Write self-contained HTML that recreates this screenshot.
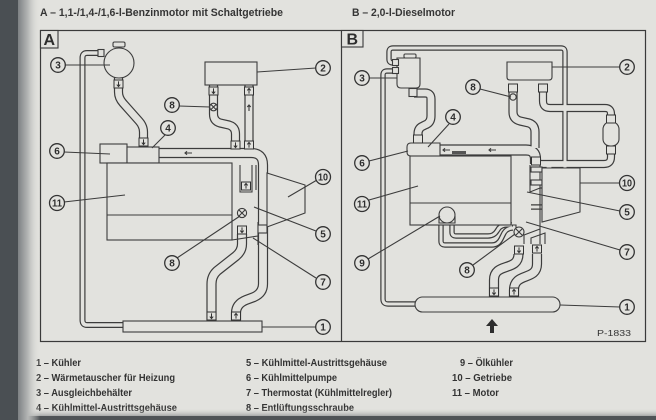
<!DOCTYPE html>
<html><head><meta charset="utf-8"><style>
html,body{margin:0;padding:0;background:#e2e2de;}
body{width:656px;height:420px;overflow:hidden;}
svg{display:block;font-family:"Liberation Sans",Arial,sans-serif;}
.ln{stroke:#3c3c3c;stroke-width:1.1;fill:none;}
.bx{stroke:#3c3c3c;stroke-width:1.1;fill:#e2e2de;}
.hd{stroke:#3c3c3c;fill:none;}
.hl{stroke:#e2e2de;fill:none;}
.lc{fill:#e2e2de;stroke:#333;stroke-width:1.3;}
.lt{font-size:10px;font-weight:bold;fill:#2e2e2e;text-anchor:middle;}
.lg{font-size:10px;font-weight:bold;fill:#333;}
</style></head><body>
<svg width="656" height="420" viewBox="0 0 656 420" xmlns="http://www.w3.org/2000/svg">
<defs>
<linearGradient id="mg" x1="0" x2="1" y1="0" y2="0"><stop offset="0" stop-color="#7d8184"/><stop offset="0.45" stop-color="#b4b6b5"/><stop offset="1" stop-color="#e2e2de" stop-opacity="0"/></linearGradient>
<linearGradient id="bgr" x1="0" x2="0" y1="0" y2="1"><stop offset="0" stop-color="#e2e2de" stop-opacity="0"/><stop offset="1" stop-color="#5a5e61"/></linearGradient>
<g id="s"><rect x="-4.5" y="-4" width="9" height="8" fill="#e2e2de" stroke="#333" stroke-width="1"/></g>
<g id="sd"><use href="#s"/><path d="M0 -2.6V2.4M-1.7 0.6L0 2.6L1.7 0.6" fill="none" stroke="#333" stroke-width="1"/></g>
<g id="su"><use href="#s"/><path d="M0 2.6V-2.4M-1.7 -0.6L0 -2.6L1.7 -0.6" fill="none" stroke="#333" stroke-width="1"/></g>
</defs>
<rect x="0" y="0" width="656" height="420" fill="#e2e2de"/>

<!-- headers -->
<text x="40" y="16" font-size="11" font-weight="bold" fill="#353535" textLength="243" lengthAdjust="spacingAndGlyphs">A – 1,1-/1,4-/1,6-l-Benzinmotor mit Schaltgetriebe</text>
<text x="352" y="16" font-size="11" font-weight="bold" fill="#353535" textLength="103" lengthAdjust="spacingAndGlyphs">B – 2,0-l-Dieselmotor</text>

<!-- frames -->
<rect x="40.5" y="30.5" width="605" height="311" fill="none" stroke="#3a3a3a" stroke-width="1.2"/>
<line x1="341.5" y1="30" x2="341.5" y2="342" stroke="#3a3a3a" stroke-width="1.2"/>
<rect x="40.5" y="30.5" width="17.5" height="17.5" fill="#e2e2de" stroke="#3a3a3a" stroke-width="1.1"/>
<text x="49.3" y="45" font-size="16" font-weight="bold" fill="#2e2e2e" text-anchor="middle">A</text>
<rect x="341.5" y="30.5" width="21.5" height="16.5" fill="#e2e2de" stroke="#3a3a3a" stroke-width="1.1"/>
<text x="352.3" y="44.5" font-size="16" font-weight="bold" fill="#2e2e2e" text-anchor="middle">B</text>

<!-- ================= PANEL A ================= -->
<g class="hd">
<path stroke-width="6" d="M100 53 L87 53 Q82.5 53 82.5 58 L82.5 320 Q82.5 325 87 325 L124 325"/>
<path stroke-width="9.2" d="M118.5 77 L118.5 92 Q118.5 98 123 103 L139 121 Q143.5 126 143.5 132 L143.5 147"/>
<path stroke-width="9.2" d="M213.5 84 L213.5 114 Q213.5 121 220 123 L229 125 Q235.5 127 235.5 134 L235.5 150"/>
<path stroke-width="9.2" d="M249 84 L249 150"/>
<path stroke-width="10.2" d="M158 153 L251 153 Q263 153 263 165 L263 284 Q263 293 254 297 L246 300 Q236 304 236 313 L236 322"/>
<path stroke-width="10.2" d="M242 234 L242 244 Q242 251 236 256 L217 271 Q211.5 276 211.5 284 L211.5 322"/>
</g>
<g class="hl">
<path stroke-width="3.6" d="M100 53 L87 53 Q82.5 53 82.5 58 L82.5 320 Q82.5 325 87 325 L124 325"/>
<path stroke-width="6.8" d="M118.5 77 L118.5 92 Q118.5 98 123 103 L139 121 Q143.5 126 143.5 132 L143.5 147"/>
<path stroke-width="6.8" d="M213.5 84 L213.5 114 Q213.5 121 220 123 L229 125 Q235.5 127 235.5 134 L235.5 150"/>
<path stroke-width="6.8" d="M249 84 L249 150"/>
<path stroke-width="7.8" d="M158 153 L251 153 Q263 153 263 165 L263 284 Q263 293 254 297 L246 300 Q236 304 236 313 L236 322"/>
<path stroke-width="7.8" d="M242 234 L242 244 Q242 251 236 256 L217 271 Q211.5 276 211.5 284 L211.5 322"/>
</g>
<path class="ln" d="M192 153 H185 M187 151.3 L185 153 L187 154.7" stroke-width="1"/>
<path class="ln" d="M249 111 V105 M247.3 107 L249 105 L250.7 107" stroke-width="1"/>

<circle cx="119" cy="63" r="15" class="bx"/>
<rect x="113" y="42" width="12" height="5" rx="1.5" class="bx"/>
<rect x="98" y="49.5" width="6" height="7" class="bx"/>
<rect x="205" y="62" width="52" height="23" class="bx"/>
<rect x="100" y="144" width="27" height="19" class="bx"/>
<rect x="127" y="147" width="32" height="16" class="bx"/>
<rect x="107" y="163" width="125" height="77" class="bx"/>
<line x1="107" y1="215" x2="232" y2="215" class="ln"/>
<path class="ln" d="M240 165 V192 H252 V165 M256 165 V190 M232 240 L258 236 M258 222 V245"/>
<rect x="258" y="225" width="9" height="8" class="bx"/>
<path class="bx" d="M267 173 L305 185 L305 213 L267 227 Z"/>
<rect x="123" y="321" width="139" height="11" class="bx"/>
<circle cx="213.5" cy="107" r="3.8" class="bx"/>
<path class="ln" d="M211 104.5 L216 109.5 M216 104.5 L211 109.5" stroke-width="0.9"/>
<circle cx="242" cy="213" r="4.6" class="bx"/>
<path class="ln" d="M239 210 L245 216 M245 210 L239 216" stroke-width="0.9"/>
<use href="#sd" x="118.5" y="84"/>
<use href="#sd" x="143.5" y="142"/>
<use href="#sd" x="213.5" y="91"/>
<use href="#sd" x="235.5" y="145"/>
<use href="#su" x="249" y="91"/>
<use href="#su" x="249" y="145"/>
<use href="#su" x="246" y="186"/>
<use href="#sd" x="242" y="230"/>
<use href="#sd" x="211.5" y="316"/>
<use href="#su" x="236" y="316"/>

<g class="ln">
<path d="M65 65 L110 65"/>
<path d="M316 68 L257 72"/>
<path d="M179 106 L210 107"/>
<path d="M165 135 L152 148"/>
<path d="M64 152 L110 154"/>
<path d="M317 180 L288 197"/>
<path d="M64 202 L125 195"/>
<path d="M316 231 L254 207"/>
<path d="M177 258 L240 216"/>
<path d="M316 278 L253 238"/>
<path d="M316 327 L262 327"/>
</g>
<g>
<circle cx="58" cy="65" r="7.3" class="lc"/><text x="58" y="68.6" class="lt">3</text>
<circle cx="323" cy="68" r="7.3" class="lc"/><text x="323" y="71.6" class="lt">2</text>
<circle cx="172" cy="105" r="7.3" class="lc"/><text x="172" y="108.6" class="lt">8</text>
<circle cx="168" cy="128" r="7.3" class="lc"/><text x="168" y="131.6" class="lt">4</text>
<circle cx="57" cy="151" r="7.3" class="lc"/><text x="57" y="154.6" class="lt">6</text>
<circle cx="323" cy="177" r="7.5" class="lc"/><text x="323" y="180.4" class="lt" font-size="9" textLength="10" lengthAdjust="spacingAndGlyphs">10</text>
<circle cx="57" cy="203" r="7.5" class="lc"/><text x="57" y="206.4" class="lt" font-size="9" textLength="10" lengthAdjust="spacingAndGlyphs">11</text>
<circle cx="323" cy="234" r="7.3" class="lc"/><text x="323" y="237.6" class="lt">5</text>
<circle cx="172" cy="263" r="7.3" class="lc"/><text x="172" y="266.6" class="lt">8</text>
<circle cx="323" cy="282" r="7.3" class="lc"/><text x="323" y="285.6" class="lt">7</text>
<circle cx="323" cy="327" r="7.3" class="lc"/><text x="323" y="330.6" class="lt">1</text>
</g>

<!-- ================= PANEL B ================= -->
<g class="hd">
<path stroke-width="5.4" d="M397 63 L393 63 Q389 63 389 59 L389 52 Q389 48 393 48 L561 48 Q565 48 565 52 L565 201 Q565 207 559 207 L531 207"/>
<path stroke-width="5.4" d="M397 71 L387 71 Q383 71 383 75 L383 299 Q383 304 388 304 L416 304"/>
<path stroke-width="9.2" d="M414 93 L425 93 Q431 93 431 99 L431 116 Q431 123 425 125 L423 126 Q418 128 418 134 L418 144"/>
<path stroke-width="11.2" d="M439 150 L526 150 Q535.5 150 535.5 159 L535.5 164"/>
<path stroke-width="9.2" d="M513 88 L513 112 Q513 119 520 121 L529 123 Q535 125 535 132 L535 148"/>
<path stroke-width="8.2" d="M543 88 L543 101 Q543 108 550 108 L605 108 Q611 108 611 114 L611 123"/>
<path stroke-width="8.2" d="M611 145 L611 157 Q611 164 604 164 L540 164"/>
<path stroke-width="5.4" d="M441 221 L441 241 Q441 245 445 245 L492 245 Q498 245 501 239 L504 233 Q507 228 513 228"/>
<path stroke-width="5.4" d="M452 221 L452 232 Q452 236 456 236 L488 236 Q494 236 497 231 L499 228 Q502 225 507 225 L512 225"/>
<path stroke-width="10.2" d="M518.5 254 C518.5 272 494 262 494 280 L494 298"/>
<path stroke-width="10.2" d="M537 254 L537 264 C537 281 514 272 514 290 L514 298"/>
<path stroke-width="7.2" d="M549 166 L549 180 Q549 185 544 185 L540 185"/>
</g>
<g class="hl">
<path stroke-width="3" d="M397 63 L393 63 Q389 63 389 59 L389 52 Q389 48 393 48 L561 48 Q565 48 565 52 L565 201 Q565 207 559 207 L531 207"/>
<path stroke-width="3" d="M397 71 L387 71 Q383 71 383 75 L383 299 Q383 304 388 304 L416 304"/>
<path stroke-width="6.8" d="M414 93 L425 93 Q431 93 431 99 L431 116 Q431 123 425 125 L423 126 Q418 128 418 134 L418 144"/>
<path stroke-width="8.8" d="M439 150 L526 150 Q535.5 150 535.5 159 L535.5 164"/>
<path stroke-width="6.8" d="M513 88 L513 112 Q513 119 520 121 L529 123 Q535 125 535 132 L535 148"/>
<path stroke-width="5.8" d="M543 88 L543 101 Q543 108 550 108 L605 108 Q611 108 611 114 L611 123"/>
<path stroke-width="5.8" d="M611 145 L611 157 Q611 164 604 164 L540 164"/>
<path stroke-width="3" d="M441 221 L441 241 Q441 245 445 245 L492 245 Q498 245 501 239 L504 233 Q507 228 513 228"/>
<path stroke-width="3" d="M452 221 L452 232 Q452 236 456 236 L488 236 Q494 236 497 231 L499 228 Q502 225 507 225 L512 225"/>
<path stroke-width="7.8" d="M518.5 254 C518.5 272 494 262 494 280 L494 298"/>
<path stroke-width="7.8" d="M537 254 L537 264 C537 281 514 272 514 290 L514 298"/>
<path stroke-width="4.8" d="M549 166 L549 180 Q549 185 544 185 L540 185"/>
</g>
<path class="ln" d="M450 150 H443 M445 148.3 L443 150 L445 151.7" stroke-width="1"/>
<path class="ln" d="M496 150 H489 M491 148.3 L489 150 L491 151.7" stroke-width="1"/>
<rect x="452" y="151" width="14" height="3" fill="#555"/>

<path class="bx" d="M397 58 H420 V84 Q420 88 416 88 H401 Q397 88 397 84 Z"/>
<rect x="404" y="54" width="12" height="4" rx="1.2" class="bx"/>
<rect x="392.5" y="59.5" width="6" height="6" class="bx"/>
<rect x="392.5" y="67.5" width="6" height="6" class="bx"/>
<rect x="409" y="88.5" width="8" height="8" class="bx"/>
<path class="bx" d="M507 62 H552 V77 Q552 80 549 80 H510 Q507 80 507 77 Z"/>
<rect x="603" y="122" width="16" height="24" rx="7" class="bx"/>
<path class="bx" d="M411 143 H440 V156 H411 Q407 156 407 152 V147 Q407 143 411 143 Z"/>
<rect x="410" y="156" width="101" height="69" class="bx"/>
<line x1="410" y1="203" x2="511" y2="203" class="ln"/>
<circle cx="447" cy="215" r="8" class="bx"/>
<path class="ln" d="M439 216 V223 H455 V216"/>
<path class="ln" d="M540 160 V244 M530 165 V192 L540 188 M511 225 L516 225 L516 229 L521 229 M524 244 V235 L540 229 M531 244 V238 L545 233 V244"/>
<rect x="531" y="167" width="11" height="5" class="bx"/>
<rect x="531" y="180" width="11" height="5" class="bx"/>
<path class="bx" d="M542 168 L580 168 L580 212 L542 222 Z"/>
<rect x="415" y="297" width="145" height="15" rx="7.5" class="bx"/>
<circle cx="513" cy="97" r="3.2" class="bx"/>
<circle cx="519" cy="232" r="5" class="bx"/>
<path class="ln" d="M516 229 L522 235 M522 229 L516 235" stroke-width="0.9"/>
<use href="#s" x="513" y="88"/>
<use href="#s" x="543" y="88"/>
<use href="#s" x="418" y="139"/>
<use href="#s" x="611" y="119"/>
<use href="#s" x="611" y="150"/>
<use href="#s" x="536" y="161"/>
<use href="#sd" x="519" y="250"/>
<use href="#su" x="537" y="249"/>
<use href="#sd" x="494" y="292"/>
<use href="#su" x="514" y="292"/>
<path d="M492 319 L498 326 L494 326 L494 333 L490 333 L490 326 L486 326 Z" fill="#2e2e2e"/>
<text x="597" y="336" font-size="8" fill="#333" textLength="34" lengthAdjust="spacingAndGlyphs">P-1833</text>

<g class="ln">
<path d="M369 78 L397 78"/>
<path d="M620 67 L552 67"/>
<path d="M480 89 L511 97"/>
<path d="M449 124 L428 147"/>
<path d="M369 161 L408 151"/>
<path d="M620 183 L580 183"/>
<path d="M369 200 L418 186"/>
<path d="M620 211 L527 192"/>
<path d="M368 259 L440 216"/>
<path d="M620 250 L526 222"/>
<path d="M473 265 L515 234"/>
<path d="M620 307 L560 305"/>
</g>
<g>
<circle cx="362" cy="78" r="7.3" class="lc"/><text x="362" y="81.6" class="lt">3</text>
<circle cx="627" cy="67" r="7.3" class="lc"/><text x="627" y="70.6" class="lt">2</text>
<circle cx="473" cy="87" r="7.3" class="lc"/><text x="473" y="90.6" class="lt">8</text>
<circle cx="453" cy="117" r="7.3" class="lc"/><text x="453" y="120.6" class="lt">4</text>
<circle cx="362" cy="163" r="7.3" class="lc"/><text x="362" y="166.6" class="lt">6</text>
<circle cx="627" cy="183" r="7.5" class="lc"/><text x="627" y="186.4" class="lt" font-size="9" textLength="10" lengthAdjust="spacingAndGlyphs">10</text>
<circle cx="362" cy="204" r="7.5" class="lc"/><text x="362" y="207.4" class="lt" font-size="9" textLength="10" lengthAdjust="spacingAndGlyphs">11</text>
<circle cx="627" cy="212" r="7.3" class="lc"/><text x="627" y="215.6" class="lt">5</text>
<circle cx="362" cy="263" r="7.3" class="lc"/><text x="362" y="266.6" class="lt">9</text>
<circle cx="627" cy="252" r="7.3" class="lc"/><text x="627" y="255.6" class="lt">7</text>
<circle cx="467" cy="270" r="7.3" class="lc"/><text x="467" y="273.6" class="lt">8</text>
<circle cx="627" cy="307" r="7.3" class="lc"/><text x="627" y="310.6" class="lt">1</text>
</g>

<!-- legend -->
<g class="lg">
<text x="36" y="366" textLength="45" lengthAdjust="spacingAndGlyphs">1 – Kühler</text>
<text x="36" y="381" textLength="139" lengthAdjust="spacingAndGlyphs">2 – Wärmetauscher für Heizung</text>
<text x="36" y="396" textLength="96" lengthAdjust="spacingAndGlyphs">3 – Ausgleichbehälter</text>
<text x="36" y="411" textLength="141" lengthAdjust="spacingAndGlyphs">4 – Kühlmittel-Austrittsgehäuse</text>
<text x="246" y="366" textLength="141" lengthAdjust="spacingAndGlyphs">5 – Kühlmittel-Austrittsgehäuse</text>
<text x="246" y="381" textLength="91" lengthAdjust="spacingAndGlyphs">6 – Kühlmittelpumpe</text>
<text x="246" y="396" textLength="146" lengthAdjust="spacingAndGlyphs">7 – Thermostat (Kühlmittelregler)</text>
<text x="246" y="411" textLength="108" lengthAdjust="spacingAndGlyphs">8 – Entlüftungsschraube</text>
<text x="460" y="366" textLength="53" lengthAdjust="spacingAndGlyphs">9 – Ölkühler</text>
<text x="452" y="381" textLength="60" lengthAdjust="spacingAndGlyphs">10 – Getriebe</text>
<text x="452" y="396" textLength="47" lengthAdjust="spacingAndGlyphs">11 – Motor</text>
</g>

<!-- margins -->
<rect x="0" y="408" width="656" height="12" fill="url(#bgr)"/>
<rect x="0" y="416" width="656" height="4" fill="#4f5356"/>
<rect x="18" y="0" width="22" height="420" fill="url(#mg)"/>
<rect x="0" y="0" width="18" height="420" fill="#4a4f53"/>
</svg>
</body></html>
